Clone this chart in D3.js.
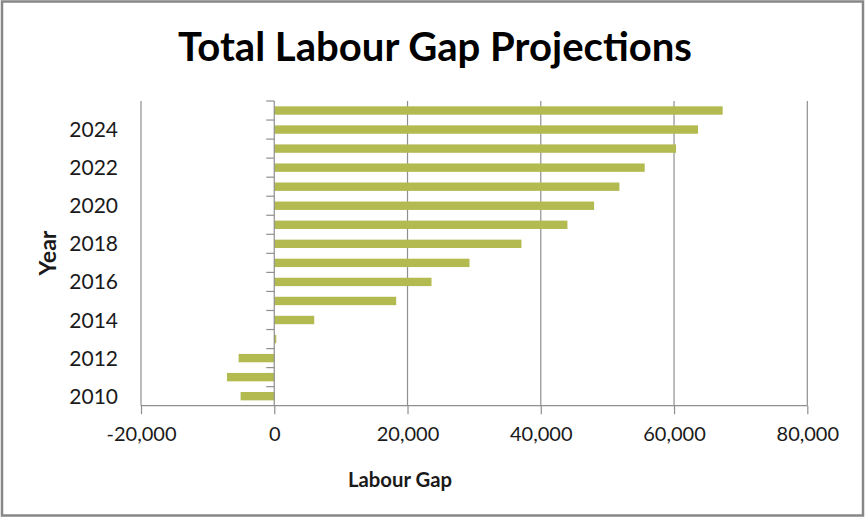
<!DOCTYPE html>
<html>
<head>
<meta charset="utf-8">
<script src="https://cdn.jsdelivr.net/npm/d3@7"></script>
<style>
  html, body { margin: 0; padding: 0; background: #fff; }
  svg { display: block; }
  text { font-family: Lato, "Open Sans", sans-serif; fill: #1a1a1a; }
</style>
</head>
<body>
<svg id="chart" width="866" height="518"></svg>
<script>
// Projected labour gap by year
const years = [2010, 2011, 2012, 2013, 2014, 2015, 2016, 2017,
               2018, 2019, 2020, 2021, 2022, 2023, 2024, 2025];
const labourGap = [-5050, -7100, -5350, 300, 6000, 18300, 23600, 29300,
                   37100, 44000, 48000, 51800, 55600, 60300, 63600, 67300];
const xTicks = [-20000, 0, 20000, 40000, 60000, 80000];
const yTickYears = [2010, 2012, 2014, 2016, 2018, 2020, 2022, 2024];

const titleText = "Total Labour Gap Projections";
const xTitle = "Labour Gap";
const yTitle = "Year";

const W = 866, H = 518;
const plot = { left: 141, right: 807.3, top: 101, bottom: 405.7 };
const gridColor = "#8f8f8f";
const barColor = "#b2ba50";

const svg = d3.select("#chart");

// outer frame
svg.append("rect")
  .attr("x", 2).attr("y", 1.5)
  .attr("width", W - 5).attr("height", H - 4)
  .attr("fill", "#fff")
  .attr("stroke", "#878787").attr("stroke-width", 2.5);

const x = d3.scaleLinear()
  .domain([-20000, 80000])
  .range([plot.left, plot.right]);

const y = d3.scaleBand()
  .domain(years.slice().reverse())
  .range([plot.top, plot.bottom])
  .paddingInner(0.56)
  .paddingOuter(0.28);

// vertical gridlines
svg.append("g")
  .selectAll("line")
  .data(xTicks.filter(t => t !== 0))
  .join("line")
  .attr("x1", d => x(d)).attr("x2", d => x(d))
  .attr("y1", plot.top).attr("y2", plot.bottom)
  .attr("stroke", gridColor).attr("stroke-width", 1.2);

// bars
svg.append("g")
  .selectAll("rect")
  .data(years.map((yr, i) => ({ yr, v: labourGap[i] })))
  .join("rect")
  .attr("x", d => Math.min(x(0), x(d.v)))
  .attr("width", d => Math.abs(x(d.v) - x(0)))
  .attr("y", d => y(d.yr))
  .attr("height", y.bandwidth())
  .attr("fill", barColor);

// thousands separator with a plain hyphen for negatives
const fmt = d3.formatLocale({ decimal: ".", thousands: ",", grouping: [3],
                              currency: ["", ""], minus: "-" }).format(",");

// x axis along the bottom
const xAxis = d3.axisBottom(x)
  .tickValues(xTicks)
  .tickSize(8.5)
  .tickPadding(13)
  .tickFormat(fmt);

const gx = svg.append("g")
  .attr("transform", `translate(0,${plot.bottom})`)
  .call(xAxis);
gx.select(".domain").attr("stroke", gridColor).attr("stroke-width", 1.2)
  .attr("d", `M${plot.left},0H${plot.right}`);
gx.selectAll(".tick line").attr("stroke", gridColor).attr("stroke-width", 1.2);
gx.selectAll(".tick text")
  .attr("font-size", 20)
  .attr("fill", "#1a1a1a")
  .style("font-family", "Lato, 'Open Sans', sans-serif");

// category axis crossing at zero, ticks between bands
const step = y.step();
const boundaries = d3.range(years.length + 1).map(i => plot.top + i * step);
const gy = svg.append("g");
gy.append("line")
  .attr("x1", x(0)).attr("x2", x(0))
  .attr("y1", plot.top).attr("y2", plot.bottom)
  .attr("stroke", gridColor).attr("stroke-width", 1.2);
gy.selectAll("line.tk")
  .data(boundaries.slice(0, -1))
  .join("line")
  .attr("class", "tk")
  .attr("x1", x(0) - 8).attr("x2", x(0))
  .attr("y1", d => d).attr("y2", d => d)
  .attr("stroke", gridColor).attr("stroke-width", 1.2);

// year labels on the left
svg.append("g")
  .selectAll("text")
  .data(yTickYears)
  .join("text")
  .attr("x", 118)
  .attr("y", d => y(d) + y.bandwidth() / 2)
  .attr("dy", "0.36em")
  .attr("text-anchor", "end")
  .attr("font-size", 21)
  .text(d => d);

// size a text element to a given width
function fitWidth(sel, target) {
  const w = sel.node().getComputedTextLength();
  const fs = parseFloat(sel.attr("font-size"));
  sel.attr("font-size", fs * target / w);
}

// title
const title = svg.append("text")
  .attr("x", 435).attr("y", 61)
  .attr("text-anchor", "middle")
  .attr("font-weight", "bold")
  .attr("font-size", 40)
  .style("fill", "#000")
  .text(titleText);
fitWidth(title, 514);

// x axis title
const xt = svg.append("text")
  .attr("x", 400).attr("y", 486.5)
  .attr("text-anchor", "middle")
  .attr("font-weight", "bold")
  .attr("font-size", 20)
  .text(xTitle);
fitWidth(xt, 104);

// y axis title
const yt = svg.append("text")
  .attr("transform", "translate(56,253) rotate(-90)")
  .attr("text-anchor", "middle")
  .attr("font-weight", "bold")
  .attr("font-size", 20)
  .text(yTitle);
fitWidth(yt, 45);
</script>
</body>
</html>
